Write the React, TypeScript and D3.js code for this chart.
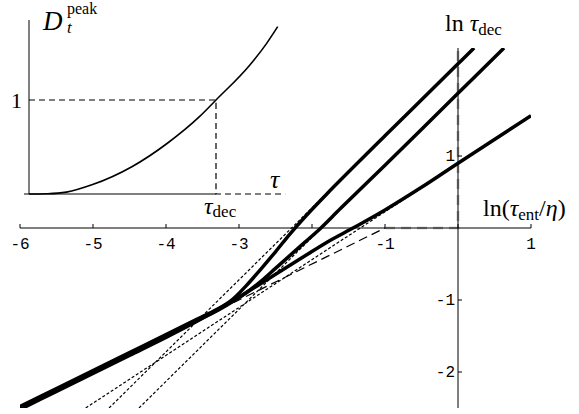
import React from 'react'
import * as d3 from 'd3'

const W = 579
const H = 414

// ---- main plot data: ln(tau_ent/eta) -> ln(tau_dec)
const xTicks = [-6, -5, -4, -3, -2, -1, 0, 1]
const xTickLabels = ['-6', '-5', '-4', '-3', '', '-1', '', '1']
const yTicks = [-2, -1, 1]
const yTickLabels = ['-2', '-1', '1']

const topU = [-6, -5.5, -5, -4.5, -4, -3.6, -3.3, -3.1, -2.9, -2.7, -2.5, -2.3, -2.1, -1.8, -1, 0, 0.22]
const topV = [-2.48, -2.23, -1.98, -1.73, -1.48, -1.28, -1.13, -1.0, -0.8, -0.57, -0.33, -0.08, 0.15, 0.47, 1.28, 2.28, 2.5]

const midU = [-6, -5.5, -5, -4.5, -4, -3.6, -3.3, -3.1, -2.9, -2.7, -2.5, -2.3, -2.1, -1.9, -1.6, -1, 0, 0.63]
const midV = [-2.5, -2.25, -2.0, -1.75, -1.5, -1.3, -1.15, -1.03, -0.9, -0.74, -0.56, -0.38, -0.2, -0.02, 0.28, 0.87, 1.87, 2.5]

const lowU = [-6, -5.5, -5, -4.5, -4, -3.6, -3.3, -3.0, -2.7, -2.4, -2.1, -1.8, -1.4, -1.0, -0.5, 0, 1]
const lowV = [-2.52, -2.27, -2.02, -1.77, -1.52, -1.31, -1.14, -0.96, -0.77, -0.58, -0.39, -0.2, 0.02, 0.25, 0.565, 0.9, 1.56]

// asymptotes (short dashes)
const topAsym: [number, number][] = [[-4.78, -2.5], [0.22, 2.5]]
const midAsym: [number, number][] = [[-4.37, -2.5], [0.63, 2.5]]
const lowAsym: [number, number][] = [[-5.1, -2.5], [1, 1.555]]
// limit (long dashes)
const limitSlope: [number, number][] = [[-6, -2.5], [-1, 0]]
const limitCorner: [number, number][] = [[-1, 0], [0, 0], [0, 2.5]]

// ---- inset data: tau -> D_t^peak
const insetTau = [0, 0.1, 0.2, 0.34, 0.55, 0.74, 0.91, 1, 1.18, 1.27, 1.33]
const insetD = [0, 0.003, 0.02, 0.1, 0.29, 0.54, 0.82, 1, 1.37, 1.6, 1.78]

const serif = '"Liberation Serif", "Times New Roman", serif'
const mono = '"Liberation Mono", "Courier New", monospace'

export default function App() {
  const x = d3.scaleLinear().domain([-6, 1]).range([20, 531])
  const y = d3.scaleLinear().domain([-2.5, 2.5]).range([408, 48])

  const curve = d3
    .line<[number, number]>()
    .x(d => x(d[0]))
    .y(d => y(d[1]))
    .curve(d3.curveCatmullRom.alpha(0.5))
  const seg = d3
    .line<[number, number]>()
    .x(d => x(d[0]))
    .y(d => y(d[1]))

  const zip = (us: number[], vs: number[]) => us.map((u, i) => [u, vs[i]] as [number, number])

  const ix = d3.scaleLinear().domain([0, 1]).range([29, 216])
  const iy = d3.scaleLinear().domain([0, 1]).range([194, 100])
  const iline = d3
    .line<[number, number]>()
    .x(d => ix(d[0]))
    .y(d => iy(d[1]))
    .curve(d3.curveMonotoneX)

  return (
    <svg
      width={W}
      height={H}
      style={{ position: 'absolute', left: 0, top: 0, background: '#fff' }}
    >
      <defs>
        <clipPath id="plot">
          <rect x={x(-6)} y={y(2.5)} width={x(1) - x(-6)} height={y(-2.5) - y(2.5)} />
        </clipPath>
      </defs>

      <g clipPath="url(#plot)" fill="none">
        {[topAsym, midAsym, lowAsym].map((a, i) => (
          <path key={i} d={seg(a) || ''} stroke="#000" strokeWidth={1.2} strokeDasharray="3,2" />
        ))}
        <path d={seg(limitSlope) || ''} stroke="#000" strokeWidth={1.2} strokeDasharray="9,5" />
        <path d={seg(limitCorner) || ''} stroke="#aaa" strokeWidth={2.6} strokeDasharray="10,6" />
      </g>

      {/* main axes */}
      <line x1={x(-6)} x2={x(1)} y1={y(0)} y2={y(0)} stroke="#000" strokeWidth={1} />
      <line x1={x(0)} x2={x(0)} y1={y(2.5)} y2={y(-2.5)} stroke="#000" strokeWidth={1} />
      {xTicks.map(t => (
        <line key={t} x1={x(t)} x2={x(t)} y1={y(0)} y2={y(0) - 4} stroke="#000" strokeWidth={1} />
      ))}
      {yTicks.map(t => (
        <line key={t} x1={x(0)} x2={x(0) + 4} y1={y(t)} y2={y(t)} stroke="#000" strokeWidth={1} />
      ))}
      {xTicks.map((t, i) => (
        <text key={t} x={x(t)} y={y(0) + 21} textAnchor="middle" fontFamily={mono} fontSize={16}>
          {xTickLabels[i]}
        </text>
      ))}
      {yTicks.map((t, i) => (
        <text key={t} x={x(0) - 3} y={y(t) + 5} textAnchor="end" fontFamily={mono} fontSize={16}>
          {yTickLabels[i]}
        </text>
      ))}

      {/* thick curves */}
      <g clipPath="url(#plot)" fill="none" stroke="#000" strokeWidth={3.5} strokeLinecap="butt">
        <path d={curve(zip(topU, topV)) || ''} />
        <path d={curve(zip(midU, midV)) || ''} />
        <path d={curve(zip(lowU, lowV)) || ''} />
      </g>

      {/* axis labels */}
      <text x={445} y={31} fontFamily={serif} fontSize={24}>
        ln <tspan fontStyle="italic">τ</tspan>
        <tspan fontSize={17} dy={4}>dec</tspan>
      </text>
      <text x={483} y={216} fontFamily={serif} fontSize={24}>
        ln(<tspan fontStyle="italic">τ</tspan>
        <tspan fontSize={17} dy={4}>ent</tspan>
        <tspan dy={-4}>/</tspan>
        <tspan fontStyle="italic">η</tspan>)
      </text>

      {/* inset */}
      <g fill="none" stroke="#000">
        <line x1={ix(0)} x2={ix(0)} y1={iy(0)} y2={20} strokeWidth={1} />
        <line x1={24} x2={ix(1)} y1={iy(0)} y2={iy(0)} strokeWidth={1} />
        <path
          d={iline([[0, 1], [1, 1], [1, 0], [1.37, 0]]) || ''}
          strokeWidth={1.2}
          strokeDasharray="6,4"
        />
        <path d={iline(zip(insetTau, insetD)) || ''} strokeWidth={1.6} />
      </g>
      <text x={22} y={108} textAnchor="end" fontFamily={serif} fontSize={22}>
        1
      </text>
      <text x={43} y={30} fontFamily={serif} fontSize={27} fontStyle="italic">
        D
      </text>
      <text x={67} y={14} fontFamily={serif} fontSize={16}>
        peak
      </text>
      <text x={67} y={33} fontFamily={serif} fontSize={17} fontStyle="italic">
        t
      </text>
      <text x={270} y={188} fontFamily={serif} fontSize={26} fontStyle="italic">
        τ
      </text>
      <text x={204} y={214} fontFamily={serif} fontSize={24}>
        <tspan fontStyle="italic">τ</tspan>
        <tspan fontSize={17} dy={3}>dec</tspan>
      </text>
    </svg>
  )
}
